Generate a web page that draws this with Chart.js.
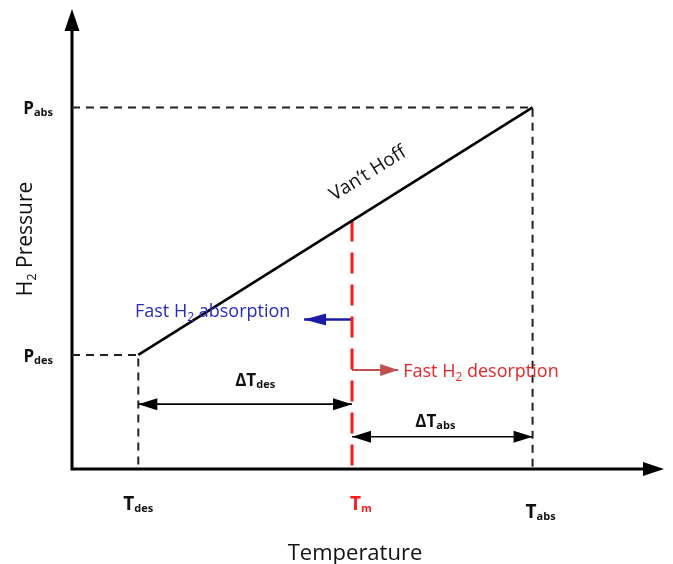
<!DOCTYPE html>
<html>
<head>
<meta charset="utf-8">
<script src="https://cdn.jsdelivr.net/npm/chart.js@4.4.1/dist/chart.umd.min.js"></script>
<style>
  html, body { margin: 0; padding: 0; background: #fff; }
  canvas { display: block; }
</style>
</head>
<body>
<canvas id="chart" width="673" height="564"></canvas>
<script>
// Temperature marks (schematic units, axis runs 0-100)
const tempTicks = [11.2, 47.3, 77.8];
const tempNames = ['des', 'm', 'abs'];
// Pressure marks
const pressTicks = [24.8, 78.6];
const pressNames = ['des', 'abs'];
// Van't Hoff line ends
const vantHoffT = [11.2, 77.8];
const vantHoffP = [24.8, 78.6];
// top of the Tm line (where it meets Van't Hoff)
const tmTop = 54.0;
// levels of the dT dimension arrows
const dTdesLevel = 14.1;
const dTabsLevel = 7.0;
// short arrows off Tm: [level, tip]
const absArrow = [32.5, 39.2];
const desArrow = [21.5, 55.1];

const FONT = '"Open Sans", "Noto Sans", sans-serif';
const pt = (x, y) => ({ x, y });

const datasets = [
    { data: [pt(0, pressTicks[0]), pt(tempTicks[0], pressTicks[0]), pt(tempTicks[0], 0)],
      borderColor: '#222', borderWidth: 2, borderDash: [8, 6] },
    { data: [pt(0, pressTicks[1]), pt(tempTicks[2], pressTicks[1]), pt(tempTicks[2], 0)],
      borderColor: '#222', borderWidth: 2, borderDash: [8, 6] },
    { data: vantHoffT.map((t, i) => pt(t, vantHoffP[i])),
      borderColor: '#000', borderWidth: 2.6 },
    { data: [pt(tempTicks[1], tmTop), pt(tempTicks[1], 0)],
      borderColor: '#ff1a1a', borderWidth: 3, borderDash: [21, 11] },
    { data: [pt(tempTicks[0], dTdesLevel), pt(tempTicks[1], dTdesLevel)],
      borderColor: '#000', borderWidth: 1.6, arrow: 'both', headLen: 19, headW: 6 },
    { data: [pt(tempTicks[1], dTabsLevel), pt(tempTicks[2], dTabsLevel)],
      borderColor: '#000', borderWidth: 1.6, arrow: 'both', headLen: 19, headW: 6 },
    { data: [pt(tempTicks[1], absArrow[0]), pt(absArrow[1], absArrow[0])],
      borderColor: '#1c1ca8', borderWidth: 2.6, arrow: 'end', headLen: 22, headW: 6 },
    { data: [pt(tempTicks[1], desArrow[0]), pt(desArrow[1], desArrow[0])],
      borderColor: '#c0504d', borderWidth: 2, arrow: 'end', headLen: 18, headW: 6 }
];
datasets.forEach(d => { d.showLine = true; d.pointRadius = 0; d.tension = 0; d.clip = false; });

// text with subscripts: parts = [text, font, dy]
function rich(ctx, parts, x, y, align) {
    let w = 0;
    parts.forEach(p => { ctx.font = p[1]; w += ctx.measureText(p[0]).width; });
    let cx = align === 'center' ? x - w / 2 : align === 'right' ? x - w : x;
    parts.forEach(p => {
        ctx.font = p[1];
        ctx.fillText(p[0], cx, y + (p[2] || 0));
        cx += ctx.measureText(p[0]).width;
    });
}

function head(ctx, tip, from, len, w, color) {
    const a = Math.atan2(tip.y - from.y, tip.x - from.x);
    ctx.save();
    ctx.translate(tip.x, tip.y);
    ctx.rotate(a);
    ctx.fillStyle = color;
    ctx.beginPath();
    ctx.moveTo(0, 0);
    ctx.lineTo(-len, -w);
    ctx.lineTo(-len, w);
    ctx.closePath();
    ctx.fill();
    ctx.restore();
}

const drawing = {
    id: 'drawing',
    beforeDatasetsDraw(chart) {
        const { ctx, chartArea: a } = chart;
        ctx.save();
        ctx.strokeStyle = '#000';
        ctx.lineWidth = 3;
        ctx.beginPath();
        ctx.moveTo(a.left, a.top + 20);
        ctx.lineTo(a.left, a.bottom);
        ctx.lineTo(a.right - 20, a.bottom);
        ctx.stroke();
        head(ctx, { x: a.left, y: a.top }, { x: a.left, y: a.bottom }, 22, 7.5, '#000');
        head(ctx, { x: a.right, y: a.bottom }, { x: a.left, y: a.bottom }, 21, 7, '#000');
        ctx.restore();
    },
    afterDatasetsDraw(chart) {
        const { ctx, chartArea: a, scales: { x, y } } = chart;
        ctx.save();
        // arrow heads
        chart.data.datasets.forEach((d, i) => {
            if (!d.arrow) return;
            const pts = chart.getDatasetMeta(i).data;
            const p0 = pts[0], p1 = pts[pts.length - 1];
            head(ctx, p1, p0, d.headLen, d.headW, d.borderColor);
            if (d.arrow === 'both') head(ctx, p0, p1, d.headLen, d.headW, d.borderColor);
        });

        ctx.textAlign = 'left';
        ctx.textBaseline = 'alphabetic';

        // pressure labels
        ctx.fillStyle = '#111';
        pressTicks.forEach((v, i) => {
            rich(ctx, [['P', 'bold 17px ' + FONT], [pressNames[i], 'bold 11px ' + FONT, 2]],
                a.left - 19, y.getPixelForValue(v) + 7, 'right');
        });
        // temperature labels
        const tOff = [[-15, 41], [-2, 41], [-7, 49]];
        const tCol = ['#111', '#ff1a1a', '#111'];
        tempTicks.forEach((v, i) => {
            ctx.fillStyle = tCol[i];
            rich(ctx, [['T', 'bold 19px ' + FONT], [tempNames[i], 'bold 11px ' + FONT, 2]],
                x.getPixelForValue(v) + tOff[i][0], a.bottom + tOff[i][1], 'left');
        });

        // axis titles
        ctx.fillStyle = '#111';
        rich(ctx, [['Temperature', '22px ' + FONT]], 355, a.bottom + 91, 'center');
        ctx.save();
        ctx.translate(32, 239);
        ctx.rotate(-Math.PI / 2);
        rich(ctx, [['H', '21px ' + FONT], ['2', '13px ' + FONT, 4], [' Pressure', '21px ' + FONT]], 0, 0, 'center');
        ctx.restore();

        // dT labels
        const t0 = x.getPixelForValue(tempTicks[0]), tm = x.getPixelForValue(tempTicks[1]),
              t2 = x.getPixelForValue(tempTicks[2]);
        rich(ctx, [['\u0394T', 'bold 17px ' + FONT], ['des', 'bold 11px ' + FONT, 2]],
            (t0 + tm) / 2 + 10, y.getPixelForValue(dTdesLevel) - 18, 'center');
        rich(ctx, [['\u0394T', 'bold 17px ' + FONT], ['abs', 'bold 11px ' + FONT, 2]],
            (tm + t2) / 2 - 7, y.getPixelForValue(dTabsLevel) - 10, 'center');

        // arrow texts
        ctx.fillStyle = '#2b2bbd';
        rich(ctx, [['Fast H', '18px ' + FONT], ['2', '12px ' + FONT, 4], [' absorption', '18px ' + FONT]],
            135, y.getPixelForValue(absArrow[0]) - 3, 'left');
        ctx.fillStyle = '#e8262a';
        rich(ctx, [['Fast H', '18px ' + FONT], ['2', '12px ' + FONT, 4], [' desorption', '18px ' + FONT]],
            x.getPixelForValue(desArrow[1]) + 5, y.getPixelForValue(desArrow[0]) + 7, 'left');

        // Van't Hoff label along the line
        const vh = chart.getDatasetMeta(2).data;
        const ang = Math.atan2(vh[1].y - vh[0].y, vh[1].x - vh[0].x);
        const f = 0.625;
        const fx = vh[0].x + (vh[1].x - vh[0].x) * f, fy = vh[0].y + (vh[1].y - vh[0].y) * f;
        ctx.save();
        ctx.translate(fx + Math.sin(ang) * 26, fy - Math.cos(ang) * 26);
        ctx.rotate(ang);
        ctx.fillStyle = '#111';
        rich(ctx, [['Van\u2019t Hoff', '19px ' + FONT]], 0, 0, 'center');
        ctx.restore();

        ctx.restore();
    }
};

new Chart(document.getElementById('chart'), {
    type: 'scatter',
    data: { datasets },
    options: {
        responsive: false,
        animation: false,
        layout: { padding: { left: 72, right: 9, top: 9, bottom: 95 } },
        scales: {
            x: { type: 'linear', min: 0, max: 100, display: false },
            y: { type: 'linear', min: 0, max: 100, display: false }
        },
        plugins: { legend: { display: false }, tooltip: { enabled: false } }
    },
    plugins: [drawing]
});
</script>
</body>
</html>
